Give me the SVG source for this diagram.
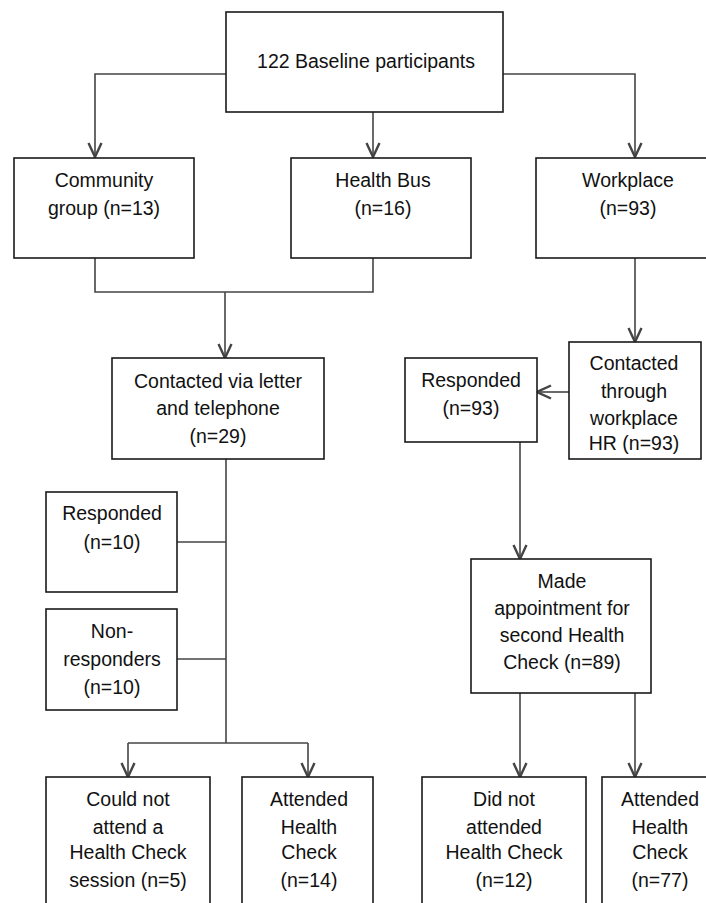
<svg xmlns="http://www.w3.org/2000/svg" width="706" height="903" viewBox="0 0 706 903">
  <style>
    .box { fill: #ffffff; stroke: #1a1a1a; stroke-width: 1.6; }
    .lbl { font-family: "Liberation Sans", Arial, sans-serif; font-size: 19.5px; fill: #111111; text-anchor: middle; }
    .wire { fill: none; stroke: #444444; stroke-width: 1.6; }
  </style>
  <defs>
    <marker id="arrow" markerUnits="userSpaceOnUse" markerWidth="18" markerHeight="18" viewBox="0 0 18 18" refX="16" refY="9" orient="auto">
      <path d="M2,2.5 L16,9 L2,15.5" fill="none" stroke="#444444" stroke-width="2.4"/>
    </marker>
  </defs>
  <rect width="706" height="903" fill="#ffffff"/>

  <g id="connectors">
    <path class="wire" d="M226,74 H95 V157" marker-end="url(#arrow)"/>
    <path class="wire" d="M373,108 V157" marker-end="url(#arrow)"/>
    <path class="wire" d="M503,74 H635 V157" marker-end="url(#arrow)"/>
    <path class="wire" d="M95,258 V292 H373 V258"/>
    <path class="wire" d="M225,292 V358" marker-end="url(#arrow)"/>
    <path class="wire" d="M635,258 V342" marker-end="url(#arrow)"/>
    <path class="wire" d="M569,392 H537" marker-end="url(#arrow)"/>
    <path class="wire" d="M520,442 V559" marker-end="url(#arrow)"/>
    <path class="wire" d="M226,459 V743"/>
    <path class="wire" d="M177,542 H226"/>
    <path class="wire" d="M177,659 H226"/>
    <path class="wire" d="M128,743 H308"/>
    <path class="wire" d="M128,743 V777" marker-end="url(#arrow)"/>
    <path class="wire" d="M308,743 V777" marker-end="url(#arrow)"/>
    <path class="wire" d="M520,693 V777" marker-end="url(#arrow)"/>
    <path class="wire" d="M635,693 V777" marker-end="url(#arrow)"/>
  </g>

  <g id="baseline">
    <rect class="box" x="226" y="12" width="277" height="100"/>
    <text class="lbl" x="366" y="68">122 Baseline participants</text>
  </g>
  <g id="community">
    <rect class="box" x="14" y="158" width="180" height="100"/>
    <text class="lbl" x="104" y="187">Community</text>
    <text class="lbl" x="104" y="215">group (n=13)</text>
  </g>
  <g id="healthbus">
    <rect class="box" x="291" y="158" width="180" height="100"/>
    <text class="lbl" x="383" y="187">Health Bus</text>
    <text class="lbl" x="383" y="215">(n=16)</text>
  </g>
  <g id="workplace">
    <rect class="box" x="536" y="158" width="183" height="100"/>
    <text class="lbl" x="628" y="187">Workplace</text>
    <text class="lbl" x="628" y="215">(n=93)</text>
  </g>
  <g id="contacted-letter">
    <rect class="box" x="112" y="358" width="212" height="101"/>
    <text class="lbl" x="218" y="388">Contacted via letter</text>
    <text class="lbl" x="218" y="415">and telephone</text>
    <text class="lbl" x="218" y="443">(n=29)</text>
  </g>
  <g id="contacted-hr">
    <rect class="box" x="569" y="342" width="132" height="117"/>
    <text class="lbl" x="634" y="370">Contacted</text>
    <text class="lbl" x="634" y="398">through</text>
    <text class="lbl" x="634" y="425">workplace</text>
    <text class="lbl" x="634" y="450">HR (n=93)</text>
  </g>
  <g id="responded-93">
    <rect class="box" x="405" y="358" width="132" height="84"/>
    <text class="lbl" x="471" y="387">Responded</text>
    <text class="lbl" x="471" y="415">(n=93)</text>
  </g>
  <g id="appointment">
    <rect class="box" x="471" y="559" width="180" height="134"/>
    <text class="lbl" x="562" y="588">Made</text>
    <text class="lbl" x="562" y="615">appointment for</text>
    <text class="lbl" x="562" y="642">second Health</text>
    <text class="lbl" x="562" y="669">Check (n=89)</text>
  </g>
  <g id="responded-10">
    <rect class="box" x="46" y="492" width="131" height="100"/>
    <text class="lbl" x="112" y="520">Responded</text>
    <text class="lbl" x="112" y="549">(n=10)</text>
  </g>
  <g id="non-responders">
    <rect class="box" x="46" y="609" width="131" height="101"/>
    <text class="lbl" x="112" y="638">Non-</text>
    <text class="lbl" x="112" y="666">responders</text>
    <text class="lbl" x="112" y="694">(n=10)</text>
  </g>
  <g id="could-not-attend">
    <rect class="box" x="46" y="777" width="164" height="140"/>
    <text class="lbl" x="128" y="806">Could not</text>
    <text class="lbl" x="128" y="834">attend a</text>
    <text class="lbl" x="128" y="859">Health Check</text>
    <text class="lbl" x="128" y="887">session (n=5)</text>
  </g>
  <g id="attended-14">
    <rect class="box" x="242" y="777" width="131" height="140"/>
    <text class="lbl" x="309" y="806">Attended</text>
    <text class="lbl" x="309" y="834">Health</text>
    <text class="lbl" x="309" y="859">Check</text>
    <text class="lbl" x="309" y="887">(n=14)</text>
  </g>
  <g id="did-not-attend">
    <rect class="box" x="422" y="777" width="164" height="140"/>
    <text class="lbl" x="504" y="806">Did not</text>
    <text class="lbl" x="504" y="834">attended</text>
    <text class="lbl" x="504" y="859">Health Check</text>
    <text class="lbl" x="504" y="887">(n=12)</text>
  </g>
  <g id="attended-77">
    <rect class="box" x="602" y="777" width="116" height="140"/>
    <text class="lbl" x="660" y="806">Attended</text>
    <text class="lbl" x="660" y="834">Health</text>
    <text class="lbl" x="660" y="859">Check</text>
    <text class="lbl" x="660" y="887">(n=77)</text>
  </g>
</svg>
